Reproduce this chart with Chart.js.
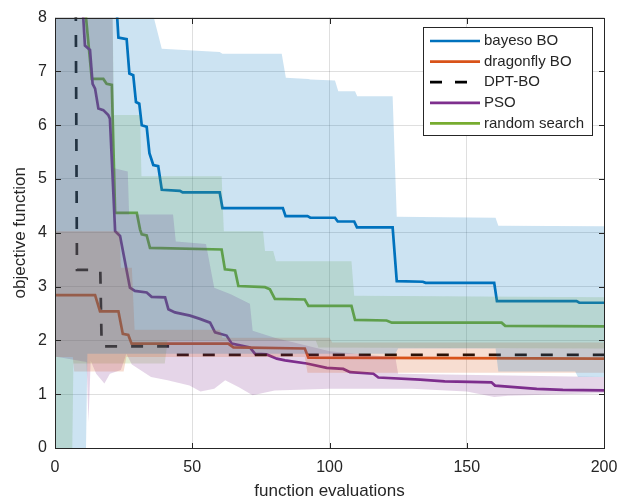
<!DOCTYPE html>
<html>
<head>
<meta charset="utf-8">
<script src="https://cdn.jsdelivr.net/npm/chart.js@4.4.1/dist/chart.umd.min.js"></script>
<style>
  html, body { margin: 0; padding: 0; background: #fff; }
  #wrap { width: 635px; height: 504px; }
</style>
</head>
<body>
<div id="wrap"><canvas id="grafico"></canvas></div>
<script>
// --- DADOS ---

const xTicks = [0, 50, 100, 150, 200];
const yTicks = [0, 1, 2, 3, 4, 5, 6, 7, 8];
const seriesLabels = ['bayeso BO', 'dragonfly BO', 'DPT-BO', 'PSO', 'random search'];

// bayeso BO
const bayesoX = [0, 15, 22.3, 23.1, 26.1, 27.1, 28.5, 29.5, 30.7, 31.6, 33.4, 34.4, 35.8, 37.6, 38.9, 45.5, 46.5, 60, 61, 83, 84, 92, 93, 102, 103, 109, 110, 123, 124.5, 134, 135, 160, 161, 190, 191, 200];
const bayesoY = [10, 9, 8.3, 7.63, 7.6, 6.96, 6.93, 6.43, 6.4, 6.0, 5.97, 5.48, 5.26, 5.24, 4.80, 4.78, 4.75, 4.75, 4.46, 4.46, 4.31, 4.31, 4.28, 4.28, 4.21, 4.21, 4.10, 4.10, 3.10, 3.09, 3.07, 3.07, 2.73, 2.73, 2.70, 2.70];
const bayesoUpX = [0, 36, 38.9, 60, 61, 82.6, 84.1, 92.3, 93, 102, 103.2, 109.3, 110.1, 123, 124.5, 160.5, 161.5, 200];
const bayesoUpY = [8, 8, 7.42, 7.36, 7.33, 7.33, 6.88, 6.86, 6.85, 6.83, 6.63, 6.63, 6.54, 6.54, 4.30, 4.28, 4.13, 4.12];
const bayesoLoX = [0, 11.3, 11.8, 124, 125, 160.5, 161.5, 189.5, 190.5, 200];
const bayesoLoY = [0, 0, 1.75, 1.75, 1.85, 1.85, 1.42, 1.42, 1.32, 1.32];

// dragonfly BO
const dragonX = [0, 14.6, 16.4, 23.1, 24.7, 26.7, 27.9, 63.1, 65, 91, 92.3, 200];
const dragonY = [2.84, 2.84, 2.54, 2.54, 2.12, 2.10, 1.94, 1.94, 1.87, 1.85, 1.68, 1.66];
const dragonUpX = [0, 23.5, 24, 28, 29, 60, 61, 100, 101, 200];
const dragonUpY = [4.03, 4.03, 3.35, 3.35, 2.2, 2.2, 2.05, 2.05, 1.96, 1.96];
const dragonLoX = [0, 6.5, 7, 25, 26, 91, 92, 200];
const dragonLoY = [1.69, 1.69, 1.42, 1.42, 1.69, 1.69, 1.40, 1.40];

// DPT-BO
const dptX = [0, 7.5, 8, 16.5, 17, 42, 43, 200];
const dptY = [12, 9, 3.31, 3.31, 1.89, 1.89, 1.73, 1.73];

// PSO
const psoX = [0, 5, 10.3, 10.9, 12.75, 13.7, 14.6, 15.8, 17.6, 19.4, 20, 21.9, 23.7, 27.3, 29.1, 33.4, 35.2, 40.1, 41.3, 43.7, 49.2, 52.8, 56.5, 58.3, 62.5, 64.4, 71, 72.9, 77.1, 80.8, 83.8, 91.7, 99, 105, 107.5, 116, 117.8, 133, 142, 151, 159, 160.3, 175.5, 185, 200];
const psoY = [11, 9, 8.0, 7.48, 7.4, 6.77, 6.68, 6.31, 6.28, 6.19, 6.12, 4.03, 3.94, 2.98, 2.92, 2.89, 2.81, 2.80, 2.58, 2.52, 2.46, 2.40, 2.33, 2.15, 2.09, 1.94, 1.87, 1.75, 1.74, 1.66, 1.63, 1.57, 1.49, 1.47, 1.41, 1.38, 1.31, 1.27, 1.24, 1.23, 1.22, 1.16, 1.10, 1.08, 1.07];
const psoUpX = [0, 21, 21.5, 26.5, 27, 43, 44, 55, 58, 64, 71, 72, 80, 100, 124, 125, 200];
const psoUpY = [8, 8, 5.2, 5.14, 4.34, 4.34, 3.84, 3.79, 2.98, 2.86, 2.68, 2.18, 2.05, 1.8, 1.68, 1.38, 1.32];
const psoLoX = [0, 11.5, 12.2, 13, 15, 18, 20, 24, 26, 28, 35, 41, 49, 53, 58, 62, 67, 72, 80, 100, 130, 150, 160, 165, 185, 200];
const psoLoY = [1.7, 1.6, 0.48, 1.62, 1.38, 1.2, 1.38, 1.45, 1.75, 1.55, 1.32, 1.26, 1.16, 1.05, 1.10, 1.26, 1.13, 0.98, 1.07, 1.10, 1.10, 1.05, 0.95, 0.97, 1.0, 1.02];

// random search
const randomX = [0, 8, 11.3, 13.4, 17.6, 18.8, 20.7, 21.9, 29.8, 31, 31.6, 33.4, 34.6, 60.7, 61.9, 65.6, 66.8, 76.5, 78.3, 80.1, 91, 92.3, 108, 109.3, 120.8, 122.7, 162.7, 164, 200];
const randomY = [11, 9, 8.0, 6.86, 6.86, 6.77, 6.75, 4.37, 4.37, 4.06, 3.97, 3.95, 3.72, 3.69, 3.32, 3.30, 3.01, 2.99, 2.95, 2.77, 2.76, 2.64, 2.64, 2.38, 2.37, 2.33, 2.33, 2.27, 2.26];
const randomUpX = [0, 21, 21.5, 31, 31.5, 60.7, 61.5, 75.8, 76.5, 79.5, 80.5, 108, 109, 200];
const randomUpY = [8, 8, 6.19, 6.19, 5.05, 5.05, 4.03, 4.03, 3.66, 3.66, 3.47, 3.47, 2.83, 2.80];
const randomLoX = [0, 6.3, 6.7, 40, 41, 95, 96, 200];
const randomLoY = [0, 0, 1.57, 1.57, 2.0, 2.0, 1.87, 1.85];

// --- ESTILO ---
const cores = ['#0072BD', '#D95319', '#000000', '#7E2F8E', '#77AC30'];
const corTexto = '#262626';
const fonte = "'Liberation Sans', Arial, sans-serif";
const espessura = 2.7;

function pontos(xs, ys) {
    return xs.map((x, i) => ({ x: x, y: ys[i] }));
}

function rgba(hex, a) {
    const n = parseInt(hex.slice(1), 16);
    return `rgba(${(n >> 16) & 255}, ${(n >> 8) & 255}, ${n & 255}, ${a})`;
}

function faixa(loX, loY, upX, upY, cor) {
    return [
        { data: pontos(loX, loY), borderWidth: 0, pointRadius: 0, fill: false },
        { data: pontos(upX, upY), borderWidth: 0, pointRadius: 0, fill: '-1', backgroundColor: rgba(cor, 0.2) }
    ];
}

function linha(xs, ys, idx, dash) {
    return {
        label: seriesLabels[idx],
        data: pontos(xs, ys),
        borderColor: cores[idx],
        borderWidth: espessura,
        borderDash: dash || [],
        pointRadius: 0,
        fill: false,
        tension: 0
    };
}

const datasets = [
    ...faixa(bayesoLoX, bayesoLoY, bayesoUpX, bayesoUpY, cores[0]),
    ...faixa(dragonLoX, dragonLoY, dragonUpX, dragonUpY, cores[1]),
    ...faixa(psoLoX, psoLoY, psoUpX, psoUpY, cores[3]),
    ...faixa(randomLoX, randomLoY, randomUpX, randomUpY, cores[4]),
    linha(bayesoX, bayesoY, 0),
    linha(dragonX, dragonY, 1),
    linha(dptX, dptY, 2, [12, 14]),
    linha(psoX, psoY, 3),
    linha(randomX, randomY, 4)
];

// Moldura estilo MATLAB: caixa, ticks para dentro e legenda
const moldura = {
    id: 'moldura',
    afterDatasetsDraw(chart) {
        const { ctx, chartArea: a, scales } = chart;
        ctx.save();
        ctx.strokeStyle = corTexto;
        ctx.lineWidth = 1;
        const L = Math.round(a.left) + 0.5, R = Math.round(a.right) + 0.5;
        const T = Math.round(a.top) + 0.5, B = Math.round(a.bottom) + 0.5;
        ctx.strokeRect(L, T, R - L, B - T);
        const tam = 5.5;
        ctx.beginPath();
        xTicks.forEach(v => {
            const px = Math.round(scales.x.getPixelForValue(v)) + 0.5;
            ctx.moveTo(px, B); ctx.lineTo(px, B - tam);
            ctx.moveTo(px, T); ctx.lineTo(px, T + tam);
        });
        yTicks.forEach(v => {
            const py = Math.round(scales.y.getPixelForValue(v)) + 0.5;
            ctx.moveTo(L, py); ctx.lineTo(L + tam, py);
            ctx.moveTo(R, py); ctx.lineTo(R - tam, py);
        });
        ctx.stroke();

        // legenda
        const bx = 423.5, by = 27.5, bw = 169, bh = 108;
        ctx.fillStyle = '#ffffff';
        ctx.fillRect(bx, by, bw, bh);
        ctx.strokeRect(bx, by, bw, bh);
        ctx.font = `15px ${fonte}`;
        ctx.textBaseline = 'middle';
        seriesLabels.forEach((lab, i) => {
            const y = 41 + i * 20.6;
            ctx.beginPath();
            ctx.strokeStyle = cores[i];
            ctx.lineWidth = espessura;
            ctx.setLineDash(i === 2 ? [12, 13] : []);
            ctx.moveTo(430, y); ctx.lineTo(480, y);
            ctx.stroke();
            ctx.setLineDash([]);
            ctx.fillStyle = corTexto;
            ctx.fillText(lab, 484, y);
        });
        ctx.restore();
    }
};

new Chart(document.getElementById('grafico'), {
    type: 'line',
    data: { datasets: datasets },
    plugins: [moldura],
    options: {
        responsive: true,
        maintainAspectRatio: false,
        animation: false,
        layout: { padding: { top: 15, right: 31, left: 0, bottom: 0 } },
        plugins: {
            legend: { display: false },
            tooltip: { enabled: false }
        },
        scales: {
            x: {
                type: 'linear',
                min: 0, max: 200,
                afterFit: s => { s.height = 56; },
                afterBuildTicks: s => { s.ticks = xTicks.map(v => ({ value: v })); },
                ticks: { color: corTexto, font: { family: fonte, size: 16 }, padding: 10, maxRotation: 0 },
                grid: { color: 'rgba(38,38,38,0.15)', drawTicks: false },
                border: { display: false },
                title: { display: true, text: 'function evaluations', color: corTexto, font: { family: fonte, size: 17 }, padding: { top: 0, bottom: 2 } }
            },
            y: {
                type: 'linear',
                min: 0, max: 8,
                afterFit: s => { s.width = 55; },
                afterBuildTicks: s => { s.ticks = yTicks.map(v => ({ value: v })); },
                ticks: { color: corTexto, font: { family: fonte, size: 16 }, padding: 8 },
                grid: { color: 'rgba(38,38,38,0.15)', drawTicks: false },
                border: { display: false },
                title: { display: true, text: 'objective function', color: corTexto, font: { family: fonte, size: 17 }, padding: { top: 10, bottom: 0 } }
            }
        }
    }
});
</script>
</body>
</html>
